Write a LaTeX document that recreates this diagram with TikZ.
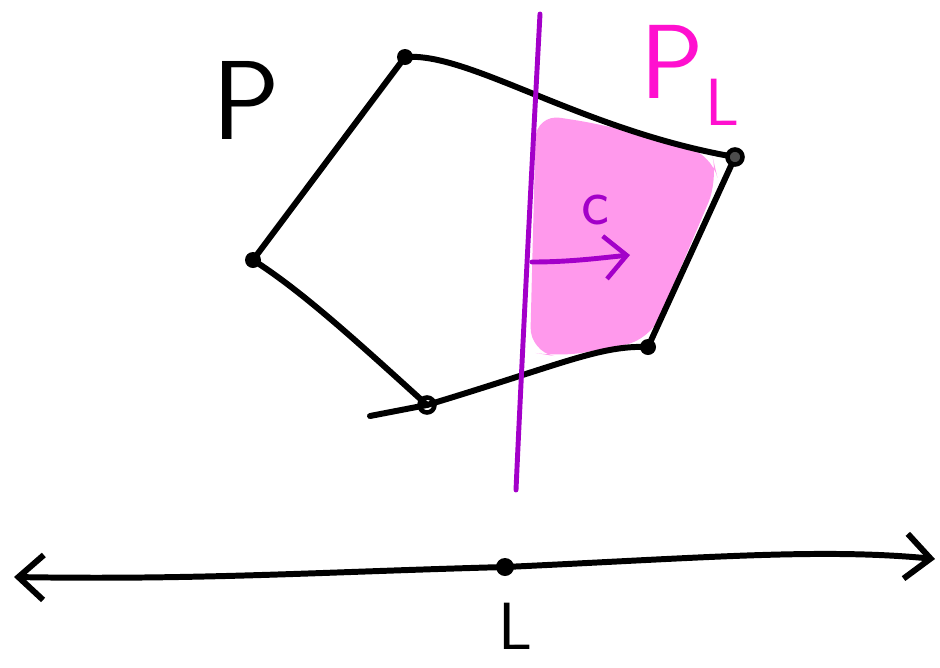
\documentclass[tikz,border=0pt]{standalone}
\usepackage{tikz}
\usetikzlibrary{arrows.meta}
\definecolor{cutline}{HTML}{A300C9}
\definecolor{halfbg}{HTML}{FF99EC}
\definecolor{halfink}{HTML}{FF10CF}
\tikzset{
  edge/.style={line width=3.4pt, line cap=round, line join=round},
  cut/.style={line width=2.8pt, draw=cutline, line cap=round},
  vtx/.style={circle, fill=black, inner sep=0pt, minimum size=0.32cm},
  vtxo/.style={circle, draw=black, line width=2.6pt, inner sep=0pt, minimum size=0.3cm},
  barb/.style={-{Straight Barb[length=4.4mm, width=8.6mm, line width=2.6pt]}},
  barbs/.style={{Straight Barb[length=5mm, width=9mm]}-{Straight Barb[length=5mm, width=9mm]}},
  lbl/.style={font=\sffamily, inner sep=0pt},
}
\begin{document}
\begin{tikzpicture}[x=0.02cm, y=-0.02cm]
  \useasboundingbox (0,0) rectangle (940,667);
  % polygon corners
  \coordinate (top) at (405,57);
  \coordinate (rt) at (735,157);
  \coordinate (rb) at (648,347);
  \coordinate (bot) at (427,405);
  \coordinate (lft) at (253,260);
  \coordinate (tail) at (370,416);
  % the half P_L
  \fill[halfbg, rounded corners=14pt] (536,114) -- (600,124) -- (712,154)
        -- (718,180) -- (650,340) -- (560,357) -- (530,352) -- cycle;
  % polygon P
  \draw[edge] (top) .. controls (470,52) and (580,130) .. (rt) -- (rb)
        .. controls (600,345) and (560,365) .. (bot) -- (tail);
  \draw[edge] (bot) .. controls (350,335) and (300,290) .. (lft) -- (top);
  \node[vtx] (vtop) at (top) {};
  \node[vtx] (vlft) at (lft) {};
  \node[vtx] (vrb) at (rb) {};
  \node[vtxo] (vbot) at (bot) {};
  \node[vtxo, fill=black!70] (vrt) at (rt) {};
  % cutting line and direction c
  \coordinate (cuttop) at (540,14);
  \coordinate (cutbot) at (516,490);
  \coordinate (cfoot) at (532,262);
  \coordinate (chead) at (630,255);
  \draw[cut] (cuttop) .. controls (530,200) and (520,400) .. (cutbot);
  \draw[cut, barb] (cfoot) .. controls (570,262) and (600,258) .. (chead);
  \node[lbl, text=cutline, font=\sffamily\fontsize{38}{38}\selectfont] (clab) at (595,210) {c};
  % labels of the pieces
  \node[lbl, font=\sffamily\fontsize{64}{64}\selectfont] (plab) at (246,100) {P};
  \node[lbl, text=halfink, font=\sffamily\fontsize{60}{60}\selectfont] (pl) at (672,62) {P};
  \node[lbl, text=halfink, font=\sffamily\fontsize{38}{38}\selectfont] (plsub) at (722,102) {L};
  % the line L below
  \coordinate (lleft) at (14,577);
  \coordinate (lright) at (935,559);
  \node[vtx, minimum size=0.36cm] (lmid) at (505,567) {};
  \draw[edge, barbs] (lleft) .. controls (200,580) and (320,572) .. (lmid.center)
        .. controls (700,558) and (820,548) .. (lright);
  \node[lbl, font=\sffamily\fontsize{38}{38}\selectfont] (llab) at (515,626) {L};
\end{tikzpicture}
\end{document}
